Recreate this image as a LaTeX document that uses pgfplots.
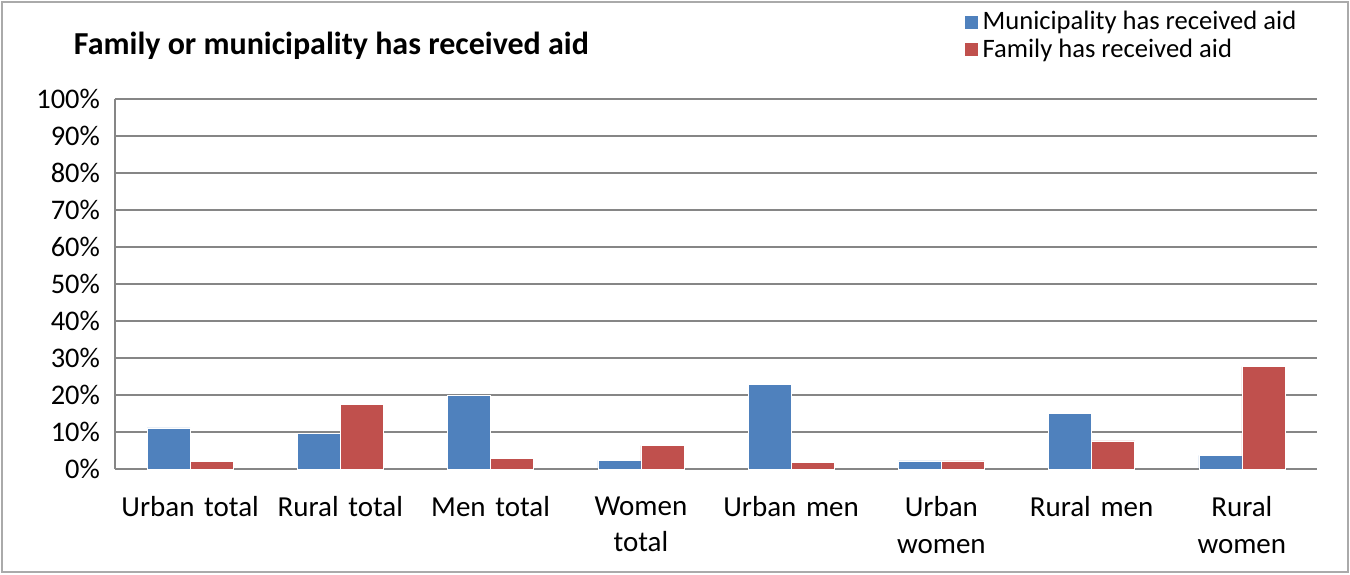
\documentclass[border=0pt]{standalone}
\usepackage{pgfplots}
\pgfplotsset{compat=1.18}
\usepackage{fontspec}
\setmainfont{Carlito}
\definecolor{cblue}{HTML}{4F81BD}
\definecolor{cred}{HTML}{C0504D}
\definecolor{cgrid}{HTML}{868686}
\begin{document}
\begin{tikzpicture}
\useasboundingbox (-57.5pt,-52.5pt) rectangle (617.5pt,234.5pt);
\draw[cgrid!70, line width=0.8pt] (-56.5pt,-51.5pt) rectangle (616.5pt,233.5pt);
\begin{axis}[
  at={(0,0)}, anchor=south west,
  scale only axis, width=601pt, height=185pt,
  ybar=0pt, bar width=21.5pt,
  xmin=-0.5, xmax=7.5, ymin=0, ymax=100,
  xtick={0,...,7},
  xticklabels={Urban total,Rural total,Men total,Women\\total,Urban men,Urban\\women,Rural men,Rural\\women},
  xticklabel style={align=center, text width=75pt, font=\fontsize{14.5}{18.2}\selectfont, yshift=-6pt},
  major x tick style={draw=none},
  ytick={0,10,...,100},
  yticklabel={\pgfmathprintnumber{\tick}\%},
  yticklabel style={font=\fontsize{14.2}{16}\selectfont, xshift=-4pt},
  /pgf/number format/assume math mode=true,
  ymajorgrids, grid style={cgrid, line width=1pt},
  axis line style={cgrid, line width=1pt},
  axis x line*=bottom, axis y line*=left,
  major y tick style={draw=none},
  legend style={draw=none, fill=none, at={(0.706,1.249)}, anchor=north west,
    font=\fontsize{13.3}{15}\selectfont, row sep=-1pt, inner sep=0pt},
  legend cell align=left,
  legend image code/.code={\fill[#1] (0pt,-3.5pt) rectangle (7pt,3.5pt);},
  clip=false,
]
\addplot[fill=cblue, draw=white, line width=0.3pt] coordinates {(0,11.1) (1,9.7) (2,19.8) (3,2.3) (4,22.8) (5,2.2) (6,15.1) (7,3.7)};
\addplot[fill=cred, draw=white, line width=0.3pt] coordinates {(0,2.0) (1,17.4) (2,2.9) (3,6.3) (4,1.7) (5,2.2) (6,7.6) (7,27.7)};
\legend{Municipality has received aid, Family has received aid}
\node[anchor=west, font=\fontsize{16}{18}\selectfont\bfseries] at (axis description cs:-0.040,1.143) {Family or municipality has received aid};
\end{axis}
\end{tikzpicture}
\end{document}
